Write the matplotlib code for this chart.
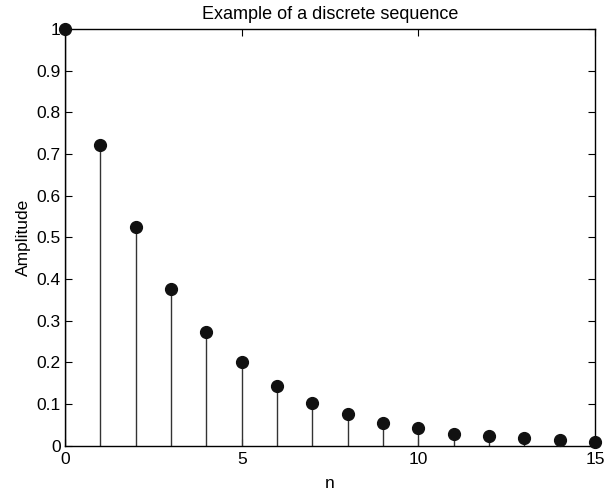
import numpy as np
import matplotlib.pyplot as plt

plt.rcParams['font.family'] = ['Liberation Sans', 'DejaVu Sans']

# sample index and amplitude
n = np.arange(0, 16)
amp = [1.0, 0.722, 0.524, 0.375, 0.272, 0.200, 0.144, 0.103,
       0.075, 0.054, 0.042, 0.028, 0.024, 0.018, 0.013, 0.009]
yticks = np.arange(0, 1.01, 0.1)
ylabels = ['0', '0.1', '0.2', '0.3', '0.4', '0.5', '0.6', '0.7', '0.8', '0.9', '1']

fig = plt.figure(figsize=(6.1, 4.92), dpi=100)
ax = fig.add_axes([0.1066, 0.0945, 0.8688, 0.8465])

markers, stems, base = ax.stem(n, amp, basefmt=' ')
plt.setp(stems, color='#333333', linewidth=1.0)
plt.setp(markers, color='#111111', markersize=8.5, clip_on=False, zorder=5)

ax.set_xlim(0, 15)
ax.set_ylim(0, 1)
ax.set_xticks([0, 5, 10, 15])
ax.set_yticks(yticks)
ax.set_yticklabels(ylabels)
ax.tick_params(direction='in', top=True, right=True, length=5, width=0.8,
               labelsize=12.5, pad=3)
ax.tick_params(axis='x', pad=5)
for s in ax.spines.values():
    s.set_linewidth(1.0)

ax.set_xlabel('n', fontsize=12.5, labelpad=6)
ax.set_ylabel('Amplitude', fontsize=12.5, labelpad=4)
ax.set_title('Example of a discrete sequence', fontsize=13, pad=7)

fig.savefig('out.png', dpi=100)
